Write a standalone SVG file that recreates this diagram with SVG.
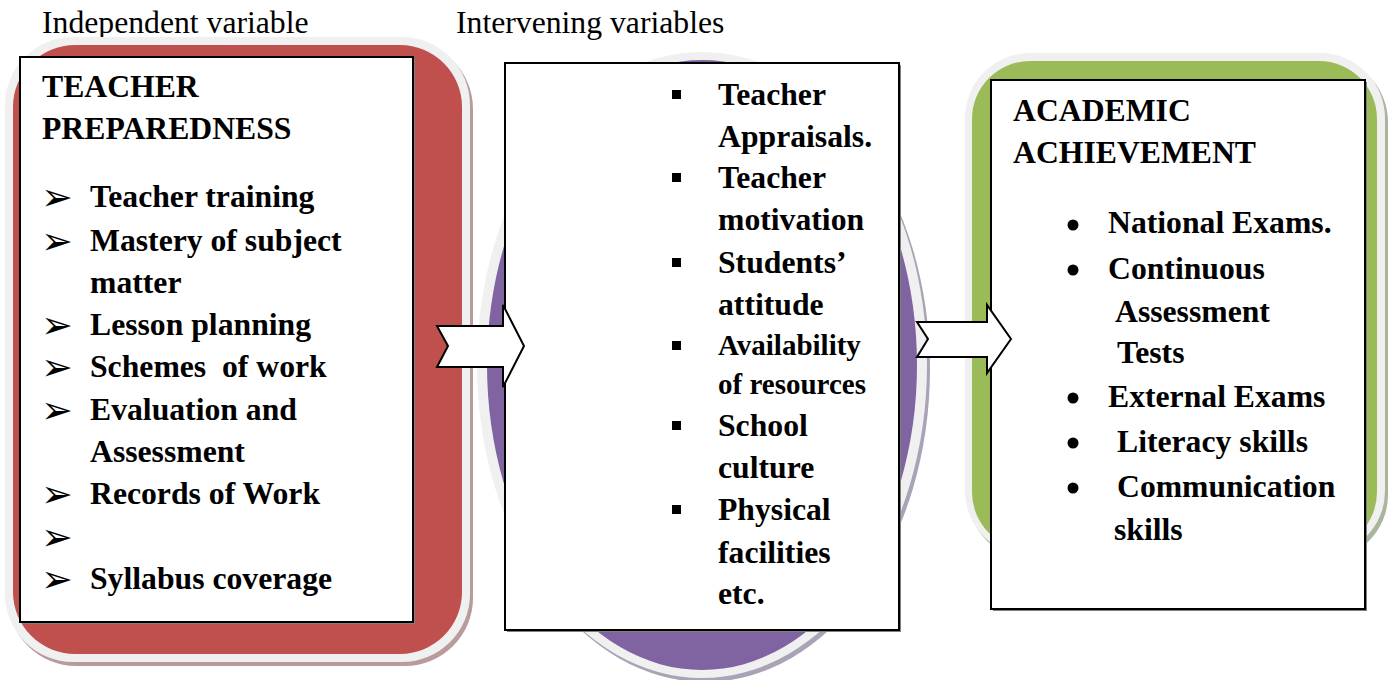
<svg xmlns="http://www.w3.org/2000/svg" width="1389" height="680" viewBox="0 0 1389 680">
<style>
.t{font-family:"Liberation Serif","Times New Roman",serif;font-weight:bold;font-size:31.7px;fill:#000}
.s{font-size:29px}
.h{font-family:"Liberation Serif","Times New Roman",serif;font-size:31.7px;fill:#000}
.arw{font-family:"DejaVu Sans",sans-serif;font-size:38px;fill:#000}
.sq{fill:#000}
.box{fill:#fff;stroke:#000;stroke-width:2}
.bsh{fill:#7f7f7f}
.conn{fill:#fff;stroke:#000;stroke-width:2;stroke-linejoin:miter}
</style>
<rect width="1389" height="680" fill="#fff"/>
<text class="h" x="42" y="33">Independent variable</text>
<text class="h" x="456" y="33">Intervening variables</text>

<g id="independent">
<rect x="8" y="41" width="465" height="625" rx="68" fill="#b89c9c"/>
<rect x="5" y="37" width="465" height="625" rx="68" fill="#f0f0f0"/>
<rect x="13" y="45" width="449" height="609" rx="62" fill="#c0504d"/>
<rect class="bsh" x="22" y="59" width="393" height="565"/>
<rect class="box" x="20" y="57" width="393" height="565"/>
<text class="t" x="42" y="97">TEACHER</text>
<text class="t" x="42" y="139">PREPAREDNESS</text>
<g class="arw">
<text x="41" y="210">➢</text>
<text x="41" y="254">➢</text>
<text x="41" y="338">➢</text>
<text x="41" y="380">➢</text>
<text x="41" y="423">➢</text>
<text x="41" y="507">➢</text>
<text x="41" y="550">➢</text>
<text x="41" y="592">➢</text>
</g>
<text class="t" x="90" y="207">Teacher training</text>
<text class="t" x="90" y="251">Mastery of subject</text>
<text class="t" x="90" y="293">matter</text>
<text class="t" x="90" y="335">Lesson planning</text>
<text class="t" x="90" y="377" xml:space="preserve">Schemes  of work</text>
<text class="t" x="90" y="420">Evaluation and</text>
<text class="t" x="90" y="462">Assessment</text>
<text class="t" x="90" y="504">Records of Work</text>
<text class="t" x="90" y="589">Syllabus coverage</text>
</g>

<g id="intervening">
<ellipse cx="705" cy="369" rx="225" ry="313" fill="#aaa2b6"/>
<ellipse cx="702" cy="365" rx="225" ry="313" fill="#f0f0f0"/>
<ellipse cx="702" cy="365" rx="215" ry="305" fill="#8064a2"/>
<rect class="bsh" x="507" y="65" width="394" height="567"/>
<rect class="box" x="505" y="63" width="394" height="567"/>
<rect class="sq" x="672" y="90" width="9" height="9"/>
<rect class="sq" x="672" y="173" width="9" height="9"/>
<rect class="sq" x="672" y="258" width="9" height="9"/>
<rect class="sq" x="672" y="341" width="9" height="9"/>
<rect class="sq" x="672" y="421" width="9" height="9"/>
<rect class="sq" x="672" y="505" width="9" height="9"/>
<text class="t" x="718" y="105">Teacher</text>
<text class="t" x="718" y="147">Appraisals.</text>
<text class="t" x="718" y="188">Teacher</text>
<text class="t" x="718" y="230">motivation</text>
<text class="t" x="718" y="273">Students’</text>
<text class="t" x="718" y="315">attitude</text>
<text class="t s" x="718" y="355">Availability</text>
<text class="t s" x="718" y="394">of resources</text>
<text class="t" x="718" y="436">School</text>
<text class="t" x="718" y="478">culture</text>
<text class="t" x="718" y="520">Physical</text>
<text class="t" x="718" y="563">facilities</text>
<text class="t" x="718" y="604">etc.</text>
</g>

<g id="dependent">
<rect x="968" y="57" width="420" height="503" rx="65" fill="#a9b59c"/>
<rect x="965" y="53" width="420" height="503" rx="65" fill="#f0f0f0"/>
<rect x="972" y="61" width="405" height="489" rx="58" fill="#9bbb59"/>
<rect class="bsh" x="993" y="82" width="374" height="529"/>
<rect class="box" x="991" y="80" width="374" height="529"/>
<text class="t" x="1013" y="121">ACADEMIC</text>
<text class="t" x="1013" y="163">ACHIEVEMENT</text>
<g class="sq">
<circle cx="1073" cy="225" r="5.5"/>
<circle cx="1073" cy="270" r="5.5"/>
<circle cx="1073" cy="398" r="5.5"/>
<circle cx="1073" cy="443" r="5.5"/>
<circle cx="1073" cy="488" r="5.5"/>
</g>
<text class="t" x="1108" y="233">National Exams.</text>
<text class="t" x="1108" y="279">Continuous</text>
<text class="t" x="1115" y="322">Assessment</text>
<text class="t" x="1117" y="363">Tests</text>
<text class="t" x="1108" y="407">External Exams</text>
<text class="t" x="1117" y="452">Literacy skills</text>
<text class="t" x="1117" y="497">Communication</text>
<text class="t" x="1114" y="540">skills</text>
</g>

<g id="connectors">
<polygon class="conn" points="437,326 503,326 503,305 524,346 503,387 503,367 437,367 448,346"/>
<polygon class="conn" points="917,322 987,322 987,305 1011,339 987,373 987,357 917,357 928,339"/>
</g>
</svg>
